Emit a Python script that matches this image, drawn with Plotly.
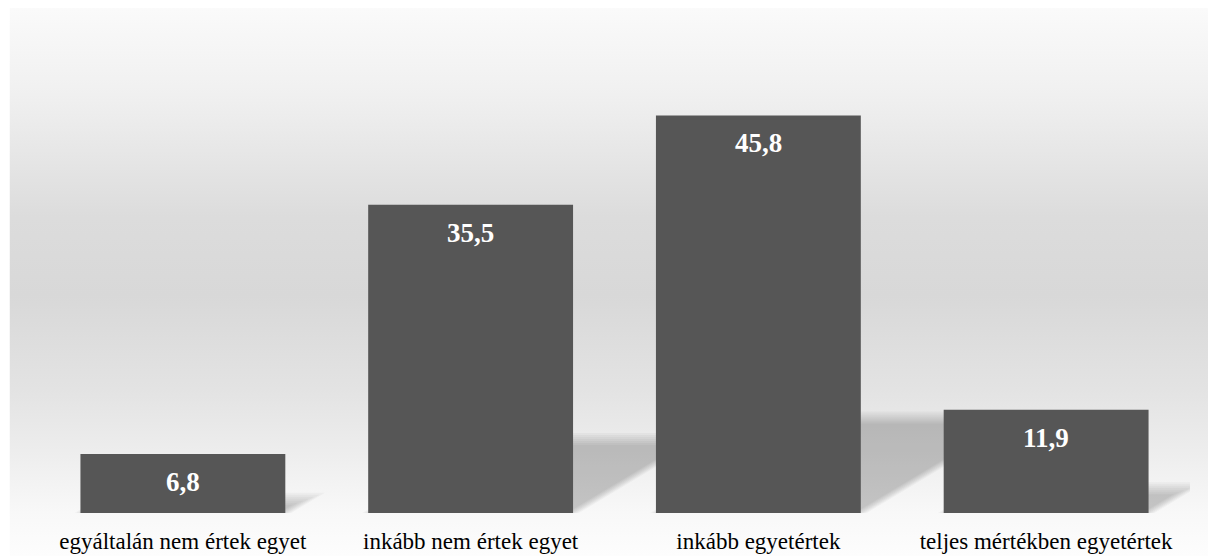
import base64
import plotly.graph_objects as go

categories = ["egyáltalán nem értek egyet", "inkább nem értek egyet",
              "inkább egyetértek", "teljes mértékben egyetértek"]
values = [6.8, 35.5, 45.8, 11.9]

# figure sits at the page's 8px body margin and fills the rest of the view
W, H = 1208, 548
ML, MR, MT, MB = 30.5, 25.5, 70.5, 43
PW, PH = W - ML - MR, H - MT - MB
YMAX = 50
BARW = 0.712

svg = '''<svg xmlns="http://www.w3.org/2000/svg" width="100" height="100" preserveAspectRatio="none" viewBox="0 0 100 100">
<defs><linearGradient id="g" x1="0" y1="0" x2="0" y2="1">
<stop offset="0" stop-color="#fbfbfb"/>
<stop offset="0.17" stop-color="#f0f0f0"/>
<stop offset="0.39" stop-color="#dcdcdc"/>
<stop offset="0.53" stop-color="#d8d8d8"/>
<stop offset="0.70" stop-color="#e3e3e3"/>
<stop offset="0.80" stop-color="#ececec"/>
<stop offset="0.92" stop-color="#f8f8f8"/>
<stop offset="1" stop-color="#fdfdfd"/>
</linearGradient></defs>
<rect x="0" y="0" width="100" height="100" fill="url(#g)"/></svg>'''
uri = "data:image/svg+xml;base64," + base64.b64encode(svg.encode()).decode()

fig = go.Figure()
fig.add_trace(go.Bar(
    x=list(range(len(values))), y=values, width=BARW,
    marker=dict(color="#565656", line=dict(width=0)),
    hoverinfo="skip",
))

px_per_y = PH / YMAX
px_per_x = PW / len(values)
shapes = []
n_layers = 7
for i, v in enumerate(values):
    x0, x1 = i - BARW / 2, i + BARW / 2
    ys_px = v * px_per_y * 0.24
    for k in range(n_layers):
        d = -6 + 12 * k / (n_layers - 1)
        top_px = ys_px - d
        if top_px <= 0:
            continue
        dx_px = top_px / 0.6
        sx = d / px_per_x
        xa, xb = x0 - sx, x1 - sx
        yt = top_px / px_per_y
        path = (f"M {xa},0 L {xb},0 L {xb + dx_px / px_per_x},{yt} "
                f"L {xa + dx_px / px_per_x},{yt} Z")
        shapes.append(dict(type="path", path=path, xref="x", yref="y",
                           fillcolor="rgba(0,0,0,0.03)", line=dict(width=0),
                           layer="below"))

annotations = []
for i, v in enumerate(values):
    annotations.append(dict(
        x=i, y=v, xref="x", yref="y", text=f"{v:.1f}".replace(".", ","),
        showarrow=False, yanchor="middle", yshift=-28,
        font=dict(family="Times New Roman, Liberation Serif, serif", size=27,
                  color="white", weight="bold"),
    ))

fig.update_layout(
    width=W, height=H,
    margin=dict(l=ML, r=MR, t=MT, b=MB, pad=0, autoexpand=False),
    paper_bgcolor="white", plot_bgcolor="rgba(0,0,0,0)",
    showlegend=False,
    shapes=shapes, annotations=annotations,
    images=[dict(source=uri, xref="paper", yref="paper",
                 x=(1 - ML) / PW, y=(H - MB + 8) / PH,
                 sizex=(W - 1) / PW, sizey=(H + 8) / PH,
                 xanchor="left", yanchor="top", sizing="stretch",
                 layer="below")],
    xaxis=dict(range=[-0.5, len(values) - 0.5], tickvals=list(range(len(values))),
               ticktext=categories, showgrid=False, zeroline=False, showline=False,
               ticks="", ticklabelstandoff=12, automargin=False,
               tickfont=dict(family="Times New Roman, Liberation Serif, serif",
                             size=23, color="black")),
    yaxis=dict(range=[0, YMAX], visible=False, showgrid=False, zeroline=False,
               automargin=False),
)

fig.write_html("out.html")
